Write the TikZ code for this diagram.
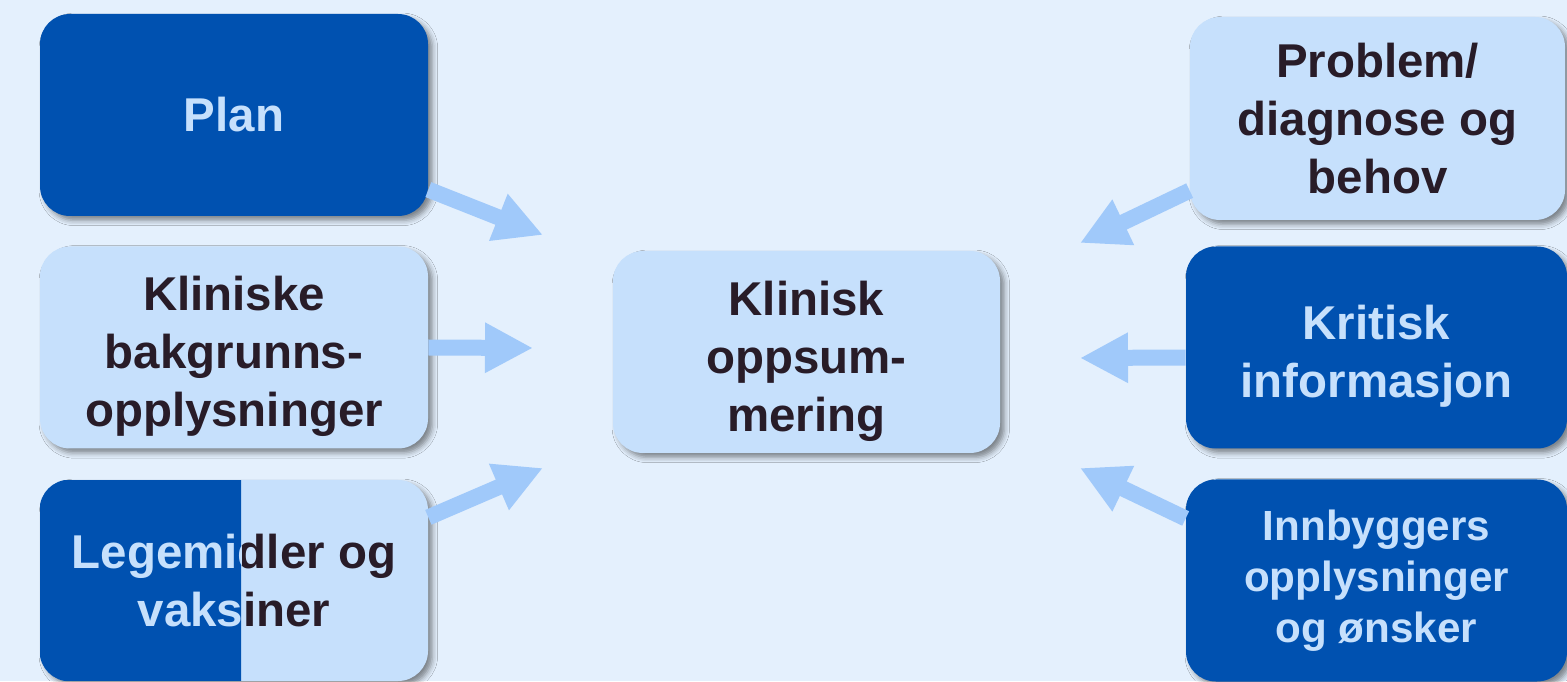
\documentclass[tikz,border=0pt]{standalone}
\usepackage{fontspec}
\setmainfont{Liberation Sans}
\usetikzlibrary{arrows.meta,shadows.blur}

\definecolor{bgblue}{RGB}{228,240,253}
\definecolor{darkbox}{RGB}{0,81,176}
\definecolor{lightbox}{RGB}{198,224,252}
\definecolor{arrowblue}{RGB}{160,201,250}
\definecolor{inkdark}{RGB}{40,28,40}

% extra room above the first line pushes the text a bit lower in its box
\newcommand{\topgap}{\rule{0pt}{30pt}}

\begin{document}
\begin{tikzpicture}
	\tikzstyle{box}=[rectangle, rounded corners=0.6cm, minimum width=7.76cm, minimum height=4.04cm, inner sep=0pt, align=center, font=\fontsize{27}{33}\selectfont\bfseries, blur shadow={shadow xshift=2.5pt, shadow yshift=-2.5pt, shadow blur radius=3pt, shadow opacity=45}]
	\tikzstyle{dark}=[box, fill=darkbox, text=lightbox]
	\tikzstyle{light}=[box, fill=lightbox, text=inkdark]
	\tikzstyle{feed}=[draw=arrowblue, line width=0.32cm, -{Triangle[length=0.96cm, width=0.94cm]}]

	\fill[bgblue] (0,0) rectangle (31.34,13.62);
	\useasboundingbox (0,0) rectangle (31.34,13.62);

	% left column
	\node[dark] at (4.68, 11.32) (plan) {Plan};
	\node[light] at (4.68, 6.67) (klin) {\topgap Kliniske\\bakgrunns-\\opplysninger};
	\node[light, minimum height=4.02cm] at (4.68, 2.01) (legem) {Legemidler og\\vaksiner};
	% left half of this box is dark, text repeated in light
	\begin{scope}
		\clip[rounded corners=0.6cm] (legem.south west) rectangle (legem.north east);
		\clip (legem.south west) rectangle (4.82, 4.1);
		\fill[darkbox] (legem.south west) rectangle (legem.north east);
		\node[align=center, inner sep=0pt, font=\fontsize{27}{33}\selectfont\bfseries, text=lightbox] at (legem.center) (legemtxt) {Legemidler og\\vaksiner};
	\end{scope}

	% middle
	\node[light, minimum width=7.74cm] at (16.13, 6.58) (summary) {\topgap Klinisk\\oppsum-\\mering};

	% right column
	\node[light, minimum width=7.5cm, minimum height=4.06cm] at (27.55, 11.25) (problem) {Problem/\\diagnose og\\behov};
	\node[dark, minimum width=7.62cm] at (27.53, 6.67) (kritisk) {\topgap Kritisk\\informasjon};
	\node[dark, minimum width=7.62cm, font=\fontsize{24}{29}\selectfont\bfseries] at (27.53, 2.01) (innbygger) {Innbyggers\\opplysninger\\og ønsker};

	% arrow tips around the summary
	\coordinate (tPlan) at (10.86, 8.92);
	\coordinate (tKlin) at (10.66, 6.66);
	\coordinate (tLeg) at (10.86, 4.26);
	\coordinate (tProb) at (21.60, 8.76);
	\coordinate (tKrit) at (21.60, 6.46);
	\coordinate (tInn) at (21.60, 4.26);

	\draw [feed] (plan.-21) -- (tPlan);
	\draw [feed] (klin.east) -- (tKlin);
	\draw [feed] (legem.18) -- (tLeg);
	\draw [feed] (problem.201) -- (tProb);
	\draw [feed] (kritisk.183) -- (tKrit);
	\draw [feed] (innbygger.162) -- (tInn);
\end{tikzpicture}
\end{document}
